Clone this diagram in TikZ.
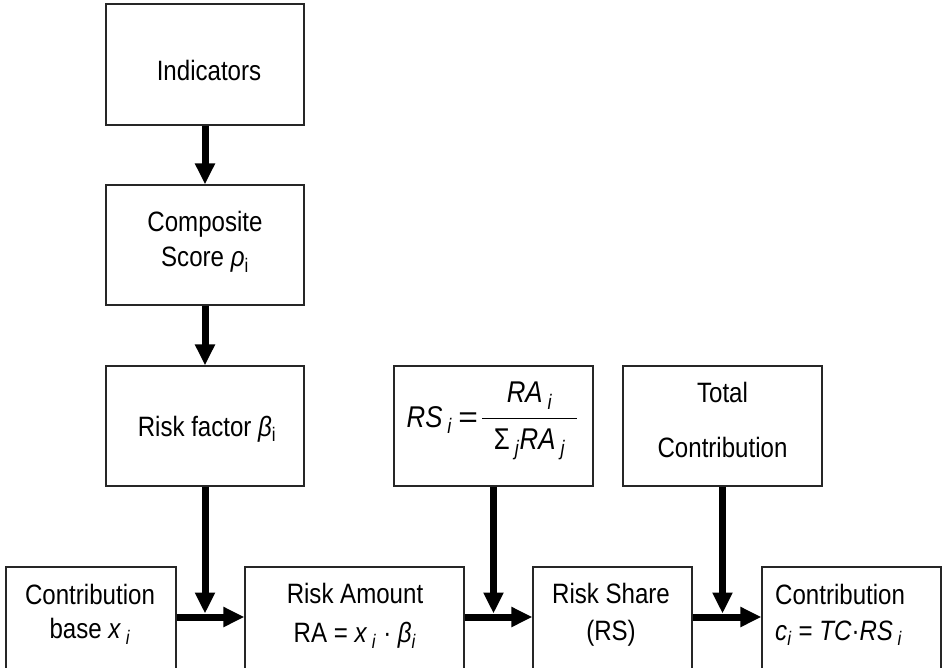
\documentclass[tikz,border=0pt]{standalone}
\usepackage{fontspec}
\usepackage{graphicx}
\setmainfont{Liberation Sans}[FakeStretch=0.86]
\usetikzlibrary{arrows.meta}
\begin{document}
\begin{tikzpicture}[x=1pt,y=-1pt,
  box/.style={draw=black!85, line width=1.3pt, fill=white, inner sep=0pt},
  txt/.style={inner sep=0pt, align=center, font=\fontsize{28}{34}\selectfont},
  flow/.style={line width=7pt, -{Triangle[width=19pt,length=21pt]}}]
\useasboundingbox (0,0) rectangle (942,667);
% boxes
\node[box, minimum width=198pt, minimum height=121pt] (ind) at (205,64.5) {};
\node[box, minimum width=198pt, minimum height=120pt] (comp) at (205,245) {};
\node[box, minimum width=198pt, minimum height=120pt] (rf) at (205,426) {};
\node[box, minimum width=199pt, minimum height=120pt] (rs) at (493.5,426) {};
\node[box, minimum width=199pt, minimum height=120pt] (tc) at (722.5,426) {};
\node[box, minimum width=170pt, minimum height=104pt] (cb) at (91,619) {};
\node[box, minimum width=219pt, minimum height=104pt] (ra) at (354.5,619) {};
\node[box, minimum width=159pt, minimum height=104pt] (rsh) at (612.5,619) {};
\node[box, minimum width=179pt, minimum height=104pt] (ci) at (851.5,619) {};
% texts
\node[txt] (indt) at (209,70) {Indicators};
\node[txt] (compt) at (205,242) {Composite\\[1pt]Score \textit{ρ}\textsubscript{i}};
\node[txt] (rft) at (207,429) {Risk factor \textit{β}\textsubscript{i}};
\node[txt, font=\fontsize{30}{36}\selectfont, anchor=base] (rst) at (492.5,424)
  {\raisebox{-3pt}{\textit{RS}\,\textsubscript{\textit{i}}\hspace{6pt}\scalebox{1.3}[1]{=}}\hspace{3pt}$\displaystyle\frac{\hbox{\textit{RA}\,\textsubscript{\textit{i}}\rule[-14pt]{0pt}{0pt}}}{\hbox to 95pt{\hfil Σ\,\textsubscript{\textit{j}}\textit{RA}\,\textsubscript{\textit{j}}\hfil\rule{0pt}{30pt}}}$};
\node[txt] (tct) at (722.5,419.5) {Total\\[21pt]Contribution};
\node[txt] (cbt) at (90,614.5) {Contribution\\[0pt]base \textit{x}\,\textsubscript{\textit{i}}};
\node[txt] (rat) at (355,616) {Risk Amount\\[5pt]RA = \textit{x}\,\textsubscript{\textit{i}} · \textit{β}\textsubscript{\textit{i}}};
\node[txt] (rsht) at (611,615) {Risk Share\\[3pt](RS)};
\node[txt, align=left, anchor=west] (cit) at (775,615) {Contribution\\[2pt]\textit{c}\textsubscript{\textit{i}} = \textit{TC}·\textit{RS}\,\textsubscript{\textit{i}}};
% connectors
\coordinate (h) at (0,617);
\draw[flow] (ind.south) -- (comp.north);
\draw[flow] (comp.south) -- (rf.north);
\draw[flow] (cb.east |- h) -- (ra.west |- h);
\draw[flow] (ra.east |- h) -- (rsh.west |- h);
\draw[flow] (rsh.east |- h) -- (ci.west |- h);
\draw[flow, shorten >=3.5pt] (rf.south) -- (rf.south |- h);
\draw[flow, shorten >=3.5pt] (rs.south) -- (rs.south |- h);
\draw[flow, shorten >=3.5pt] (tc.south) -- (tc.south |- h);
\end{tikzpicture}
\end{document}
